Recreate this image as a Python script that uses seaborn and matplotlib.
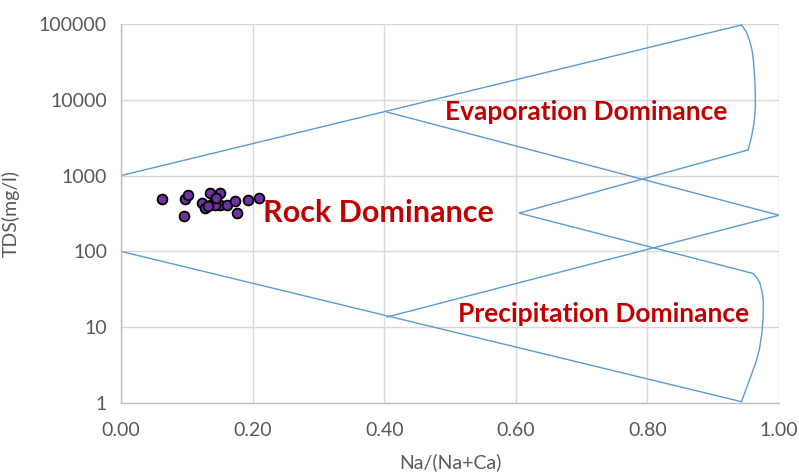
import numpy as np
import matplotlib
matplotlib.use("Agg")
import matplotlib.pyplot as plt
import seaborn as sns
import pandas as pd

# Sample data (Gibbs diagram)
na_ratio = [0.063, 0.097, 0.102, 0.096, 0.123, 0.128, 0.135, 0.138, 0.150, 0.150,
            0.143, 0.161, 0.173, 0.177, 0.193, 0.209, 0.145, 0.132]
tds = [486, 486, 555, 293, 431, 371, 584, 418, 584, 409,
       409, 409, 467, 318, 476, 510, 500, 400]

# Boundary lines (x, TDS)
outer_upper_x = [0.0, 0.943]
outer_upper_y = [1000, 97000]
outer_lower_x = [0.0, 0.943]
outer_lower_y = [100, 1.04]
inner_upper_x = [0.404, 1.0]
inner_upper_y = [6900, 300]
inner_lower_x = [0.404, 1.0]
inner_lower_y = [13.6, 300]
v_x = [0.953, 0.605, 0.961]
v_y = [2180, 320, 51]
arc_top_x = [0.943, 0.950, 0.955, 0.959, 0.961, 0.963, 0.964, 0.964, 0.963, 0.962, 0.958, 0.953]
arc_top_y = [97000, 80000, 61500, 45000, 33500, 20000, 12200, 8000, 6000, 4900, 3200, 2180]
arc_bot_x = [0.961, 0.967, 0.971, 0.974, 0.976, 0.976, 0.974, 0.970, 0.964, 0.955, 0.943]
arc_bot_y = [51, 44, 38, 30, 23, 14, 8.3, 5.0, 3.3, 2.0, 1.04]

x_ticks = [0.0, 0.2, 0.4, 0.6, 0.8, 1.0]
x_labels = ["0.00", "0.20", "0.40", "0.60", "0.80", "1.00"]
y_ticks = [1, 10, 100, 1000, 10000, 100000]
y_labels = ["1", "10", "100", "1000", "10000", "100000"]

labels = ["Evaporation Dominance", "Rock Dominance", "Precipitation Dominance"]
label_x = [0.707, 0.391, 0.733]
label_y = [6900, 321, 14.9]

sns.set_theme(style="white")
plt.rcParams['font.family'] = ['Lato', 'DejaVu Sans']

fig = plt.figure(figsize=(7.99, 4.76), dpi=100)
ax = fig.add_axes([0.1514, 0.1534, 0.8236, 0.7962])

line_color = "#5B9BD5"
for xs, ys in [(outer_upper_x, outer_upper_y), (outer_lower_x, outer_lower_y),
               (inner_upper_x, inner_upper_y), (inner_lower_x, inner_lower_y),
               (v_x, v_y), (arc_top_x, arc_top_y), (arc_bot_x, arc_bot_y)]:
    ax.plot(xs, ys, color=line_color, lw=1.0, zorder=2)

df = pd.DataFrame({"x": na_ratio, "y": tds})
sns.scatterplot(data=df, x="x", y="y", ax=ax, color="#7030A0", edgecolor="black",
                linewidth=1.3, s=50, zorder=3, legend=False)

ax.set_yscale("log")
ax.set_xlim(0, 1.0)
ax.set_ylim(1, 100000)
ax.set_xticks(x_ticks)
ax.set_xticklabels(x_labels)
ax.set_yticks(y_ticks)
ax.set_yticklabels(y_labels)
ax.yaxis.set_minor_locator(matplotlib.ticker.NullLocator())

ax.grid(True, color="#D9D9D9", lw=1.0, zorder=0)
ax.set_axisbelow(True)
for s in ["top", "right"]:
    ax.spines[s].set_visible(False)
for s in ["left", "bottom"]:
    ax.spines[s].set_color("#BFBFBF")
    ax.spines[s].set_linewidth(1.0)
ax.tick_params(axis="x", length=0, labelsize=14, labelcolor="#595959", pad=14)
ax.tick_params(axis="y", length=0, labelsize=14, labelcolor="#595959", pad=10)

ax.set_xlabel("Na/(Na+Ca)", fontsize=14, color="#595959", labelpad=10)
ax.set_ylabel("TDS(mg/l)", fontsize=14, color="#595959", labelpad=14)

sizes = [19, 22, 19]
for t, x, y, fs in zip(labels, label_x, label_y, sizes):
    ax.text(x, y, t, color="#C00000", fontsize=fs, fontweight="bold",
            ha="center", va="center", zorder=4)

fig.savefig("out.png", dpi=100)
